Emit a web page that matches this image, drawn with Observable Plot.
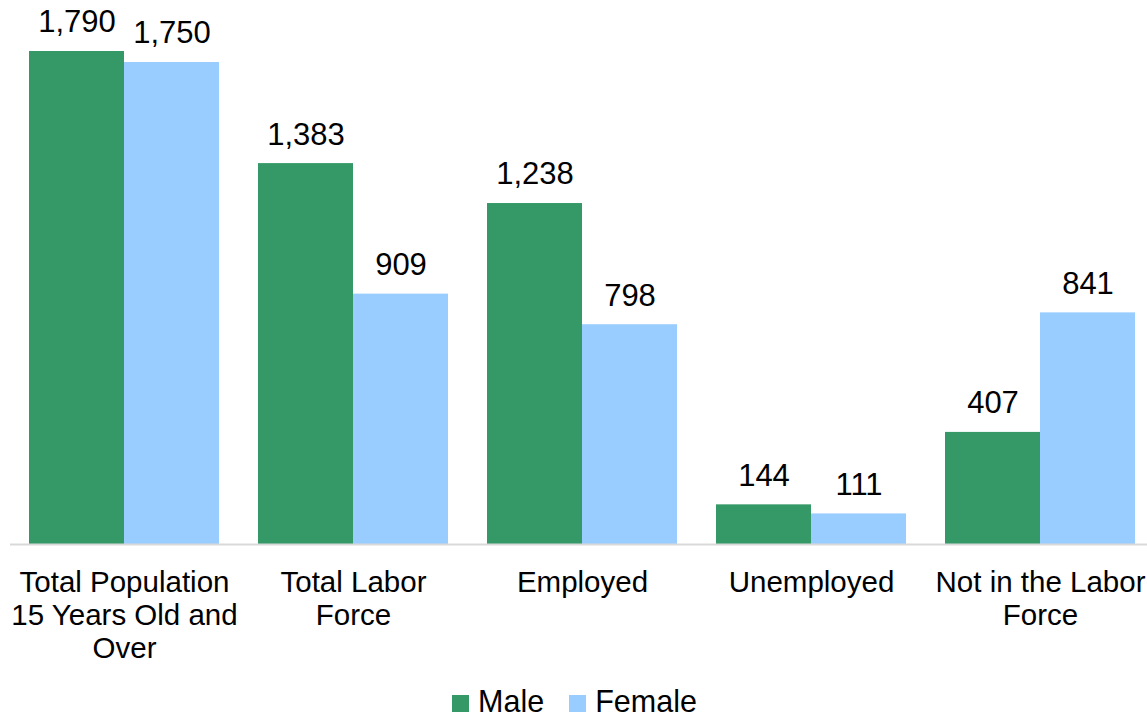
<!DOCTYPE html>
<html>
<head>
<meta charset="utf-8">
<script src="https://cdn.jsdelivr.net/npm/d3@7"></script>
<script src="https://cdn.jsdelivr.net/npm/@observablehq/plot@0.6"></script>
<style>
  body { margin: 0; background: #fff; font-family: "Liberation Sans", Arial, sans-serif; overflow: hidden; }
  #chart svg { display: block; }
  #legend { display: flex; justify-content: center; align-items: center; height: 33px; line-height: 33px; padding-left: 27px; font-size: 30.5px; color: #000; }
  .sw { display: inline-flex; align-items: center; margin-right: 25px; }
  .sw i { display: inline-block; width: 17px; height: 17px; margin-right: 9px; margin-top: 3px; }
</style>
</head>
<body>
<div id="chart"></div>
<div id="legend"></div>
<script>
const categories = ["Total Population 15 Years Old and Over", "Total Labor Force", "Employed", "Unemployed", "Not in the Labor Force"];
const tickLabels = ["Total Population\n15 Years Old and\nOver", "Total Labor\nForce", "Employed", "Unemployed", "Not in the Labor\nForce"];
const series = ["Male", "Female"];
const colors = ["#359967", "#99CCFF"];
const male = [1790, 1383, 1238, 144, 407];
const female = [1750, 909, 798, 111, 841];

const maleData = categories.map((c, i) => ({category: c, value: male[i]}));
const femaleData = categories.map((c, i) => ({category: c, value: female[i]}));
const labelData = categories.map((c, i) => ({category: c, label: tickLabels[i]}));
const fmt = d3.format(",");
const half = 95;
const font = "Liberation Sans, Arial, sans-serif";

const chart = Plot.plot({
  width: 1147,
  height: 685,
  marginLeft: 10,
  marginRight: 0,
  marginTop: 51,
  marginBottom: 141,
  style: {fontFamily: font, background: "#fff", color: "#000"},
  x: {domain: categories, range: [9.5, 1155.5], paddingInner: 0.17, paddingOuter: 0.085, axis: null},
  y: {domain: [0, 1790], range: [544, 51], axis: null},
  marks: [
    Plot.barY(maleData, {x: "category", y: "value", fill: colors[0], insetRight: half}),
    Plot.barY(femaleData, {x: "category", y: "value", fill: colors[1], insetLeft: half}),
    Plot.ruleY([0], {stroke: "#d9d9d9", strokeWidth: 2}),
    Plot.text(maleData, {x: "category", y: "value", text: d => fmt(d.value), dx: -half / 2, dy: -29, fontSize: 31, fill: "#000"}),
    Plot.text(femaleData, {x: "category", y: "value", text: d => fmt(d.value), dx: half / 2, dy: -29, fontSize: 31, fill: "#000"}),
    Plot.text(labelData, {x: "category", frameAnchor: "bottom", lineAnchor: "top", dy: 24, text: "label", fontSize: 29.5, lineHeight: 1.12, fill: "#000"})
  ]
});
document.getElementById("chart").appendChild(chart);

const legend = document.getElementById("legend");
series.forEach((s, i) => {
  const span = document.createElement("span");
  span.className = "sw";
  const sw = document.createElement("i");
  sw.style.background = colors[i];
  span.appendChild(sw);
  span.appendChild(document.createTextNode(s));
  legend.appendChild(span);
});
</script>
</body>
</html>
